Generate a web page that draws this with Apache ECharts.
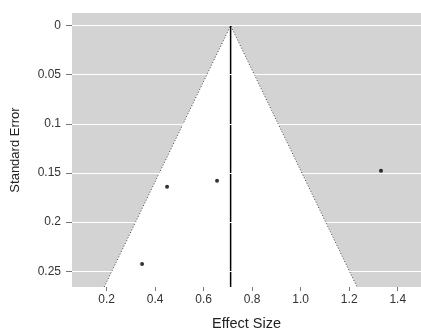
<!DOCTYPE html>
<html>
<head>
<meta charset="utf-8">
<script src="https://cdn.jsdelivr.net/npm/echarts@6/dist/echarts.min.js"></script>
<style>html,body{margin:0;padding:0;background:#fff;}#c{width:421px;height:336px;}</style>
</head>
<body>
<div id="c"></div>
<script>
const xTicks = [0.2, 0.4, 0.6, 0.8, 1.0, 1.2, 1.4];
const yTicks = [0, 0.05, 0.1, 0.15, 0.2, 0.25];
const effectSizes = [0.449, 0.655, 0.346, 1.331];
const standardErrors = [0.164, 0.158, 0.2426, 0.1477];
const pooledEffect = 0.711;
const seMax = 0.266;
const zCrit = 1.96;

const points = effectSizes.map((e, i) => [e, standardErrors[i]]);
const funnel = [
  [pooledEffect, 0],
  [pooledEffect - zCrit * seMax, seMax],
  [pooledEffect + zCrit * seMax, seMax]
];

const font = 'Liberation Sans, Arial, sans-serif';
const chart = echarts.init(document.getElementById('c'));
chart.setOption({
  animation: false,
  grid: { left: 72, top: 13, right: 0, bottom: 40, show: true, backgroundColor: '#d3d3d3', borderWidth: 0 },
  xAxis: {
    type: 'value', min: 0.057, max: 1.496, position: 'bottom',
    name: 'Effect Size', nameLocation: 'middle', nameGap: 29,
    nameTextStyle: { fontFamily: font, fontSize: 14.5, color: '#222' },
    axisLine: { show: false, onZero: false },
    axisTick: { show: true, length: 4, lineStyle: { color: '#777' }, customValues: xTicks },
    axisLabel: { customValues: xTicks, fontFamily: font, fontSize: 12, color: '#333', margin: 7, formatter: v => v.toFixed(1) },
    splitLine: { show: false }
  },
  yAxis: {
    type: 'value', inverse: true, min: -0.0128, max: seMax,
    name: 'Standard Error', nameLocation: 'middle', nameGap: 50, nameRotate: 90,
    nameTextStyle: { fontFamily: font, fontSize: 13, color: '#222' },
    axisLine: { show: false, onZero: false },
    axisTick: { show: true, length: 6, lineStyle: { color: '#777' }, customValues: yTicks },
    axisLabel: { customValues: yTicks, fontFamily: font, fontSize: 12, color: '#333', margin: 11, formatter: v => String(v) },
    splitLine: { show: false }
  },
  series: [
    {
      type: 'line', data: [], silent: true,
      markLine: {
        silent: true, symbol: 'none', label: { show: false },
        lineStyle: { color: '#ffffff', type: 'solid', width: 1.2 },
        data: yTicks.map(v => ({ yAxis: v }))
      }
    },
    {
      type: 'custom', silent: true, z: 3,
      data: [0],
      renderItem: function (params, api) {
        const pts = funnel.map(p => api.coord(p));
        return {
          type: 'group',
          children: [
            { type: 'polygon', shape: { points: pts }, style: { fill: '#ffffff' } },
            { type: 'polyline', shape: { points: [pts[1], pts[0], pts[2]] },
              style: { stroke: '#444', lineWidth: 1, lineDash: [1, 2], fill: null } },
            { type: 'line', shape: { x1: pts[0][0], y1: pts[0][1], x2: pts[0][0], y2: pts[1][1] },
              style: { stroke: '#000', lineWidth: 1.5 } }
          ]
        };
      }
    },
    {
      type: 'scatter', z: 5, data: points, symbol: 'circle', symbolSize: 4,
      itemStyle: { color: '#000' }
    }
  ]
});
</script>
</body>
</html>
